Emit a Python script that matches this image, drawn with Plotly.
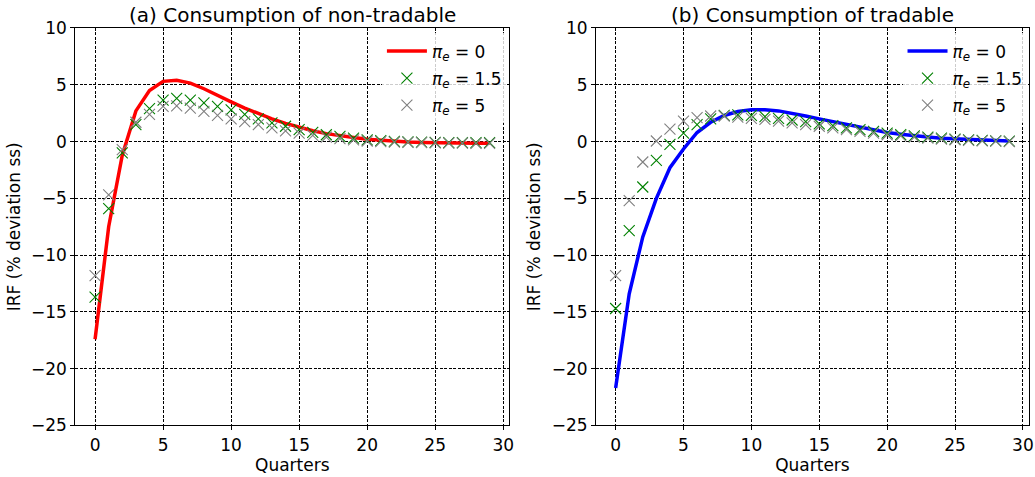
import plotly.graph_objects as go

quarters = list(range(30))

# (a) Consumption of non-tradable
nt_pi0 = [-17.4, -7.5, -1.2, 2.7, 4.5, 5.3, 5.4, 5.15, 4.65, 4.05, 3.5, 2.95, 2.45, 2.0, 1.6,
          1.25, 0.95, 0.7, 0.5, 0.35, 0.2, 0.1, 0.02, -0.04, -0.08, -0.11, -0.13, -0.14, -0.15, -0.15]
nt_pi15 = [-13.7, -5.9, -1.0, 1.5, 2.9, 3.65, 3.8, 3.65, 3.4, 3.1, 2.8, 2.4, 2.0, 1.65, 1.35,
           1.05, 0.8, 0.6, 0.45, 0.3, 0.15, 0.08, 0.02, -0.02, -0.05, -0.07, -0.09, -0.1, -0.1, -0.1]
nt_pi5 = [-11.8, -4.7, -0.7, 1.7, 2.4, 3.1, 3.15, 2.95, 2.65, 2.3, 2.0, 1.75, 1.5, 1.2, 0.95,
          0.75, 0.55, 0.4, 0.25, 0.15, 0.05, 0.0, -0.05, -0.08, -0.1, -0.12, -0.13, -0.14, -0.15, -0.15]

# (b) Consumption of tradable
t_pi0 = [-21.7, -13.4, -8.4, -5.0, -2.3, -0.65, 0.8, 1.7, 2.3, 2.65, 2.8, 2.8, 2.7, 2.5, 2.25,
         2.0, 1.75, 1.5, 1.25, 1.0, 0.8, 0.65, 0.5, 0.4, 0.3, 0.25, 0.18, 0.12, 0.08, 0.05]
t_pi15 = [-14.7, -7.85, -4.0, -1.65, -0.25, 0.75, 1.5, 2.0, 2.3, 2.35, 2.3, 2.2, 2.05, 1.9, 1.75,
          1.55, 1.4, 1.2, 1.05, 0.9, 0.75, 0.6, 0.5, 0.4, 0.3, 0.22, 0.15, 0.1, 0.06, 0.03]
t_pi5 = [-11.8, -5.2, -1.8, 0.05, 1.1, 1.8, 2.1, 2.25, 2.25, 2.15, 2.05, 1.95, 1.8, 1.65, 1.5,
         1.35, 1.2, 1.05, 0.9, 0.75, 0.6, 0.5, 0.4, 0.3, 0.22, 0.16, 0.1, 0.06, 0.03, 0.0]

titles = ["(a) Consumption of non-tradable", "(b) Consumption of tradable"]
labels = ["<i>π</i><sub><i>e</i></sub> = 0", "<i>π</i><sub><i>e</i></sub> = 1.5", "<i>π</i><sub><i>e</i></sub> = 5"]
y_ticks = [-25, -20, -15, -10, -5, 0, 5, 10]
x_ticks = [0, 5, 10, 15, 20, 25, 30]

FONT = "DejaVu Sans"
fig = go.Figure()

panels = [
    (nt_pi0, nt_pi15, nt_pi5, "red", "x", "y", "legend"),
    (t_pi0, t_pi15, t_pi5, "blue", "x2", "y2", "legend2"),
]
for i, (l0, l15, l5, col, xa, ya, lg) in enumerate(panels):
    fig.add_trace(go.Scatter(x=quarters, y=l0, mode="lines", name=labels[0],
                             line=dict(color=col, width=3.5), xaxis=xa, yaxis=ya,
                             legend=lg, legendgroup=f"g{i}a"))
    fig.add_trace(go.Scatter(x=quarters, y=l15, mode="markers", name=labels[1],
                             marker=dict(symbol="x-thin-open", size=11, color="green",
                                         line=dict(color="green", width=1.1)),
                             xaxis=xa, yaxis=ya, legend=lg, legendgroup=f"g{i}b"))
    fig.add_trace(go.Scatter(x=quarters, y=l5, mode="markers", name=labels[2],
                             marker=dict(symbol="x-thin-open", size=11, color="grey",
                                         line=dict(color="grey", width=1.1)),
                             xaxis=xa, yaxis=ya, legend=lg, legendgroup=f"g{i}c"))

xdoms = [[0.0728, 0.4921], [0.5758, 0.9942]]
ydom = [0.108, 0.9413]

axis_common = dict(showline=True, linecolor="black", linewidth=1, mirror=True,
                   ticks="outside", ticklen=4, tickcolor="black", tickwidth=1,
                   showgrid=True, gridcolor="black", gridwidth=0.9, griddash="3px,1.5px",
                   zeroline=False, automargin=False,
                   tickfont=dict(family=FONT, size=17, color="black"))

for i in range(2):
    sfx = "" if i == 0 else "2"
    fig.layout["xaxis" + sfx] = dict(axis_common, domain=xdoms[i], range=[-1.45, 30.45],
                                     tickvals=x_ticks, anchor="y" + sfx,
                                     title=dict(text="Quarters", standoff=4,
                                                font=dict(family=FONT, size=17, color="black")))
    fig.layout["yaxis" + sfx] = dict(axis_common, domain=ydom, range=[-25, 10],
                                     tickvals=y_ticks, anchor="x" + sfx,
                                     title=dict(text="IRF (% deviation ss)", standoff=6,
                                                font=dict(family=FONT, size=17, color="black")))
    fig.add_annotation(text=titles[i], xref="paper", yref="paper",
                       x=(xdoms[i][0] + xdoms[i][1]) / 2, y=ydom[1] - 0.003,
                       xanchor="center", yanchor="bottom", showarrow=False,
                       font=dict(family=FONT, size=20, color="black"))

legend_common = dict(bgcolor="rgba(255,255,255,0.8)", borderwidth=0, xanchor="left",
                     yanchor="top", traceorder="grouped", tracegroupgap=2,
                     font=dict(family=FONT, size=17, color="black"), itemwidth=40)
fig.update_layout(
    width=1035, height=477, margin=dict(l=0, r=0, t=0, b=0),
    paper_bgcolor="white", plot_bgcolor="white",
    font=dict(family=FONT, color="black"),
    legend=dict(legend_common, x=0.369, y=0.93),
    legend2=dict(legend_common, x=0.872, y=0.93),
)

fig.write_html("out.html")
